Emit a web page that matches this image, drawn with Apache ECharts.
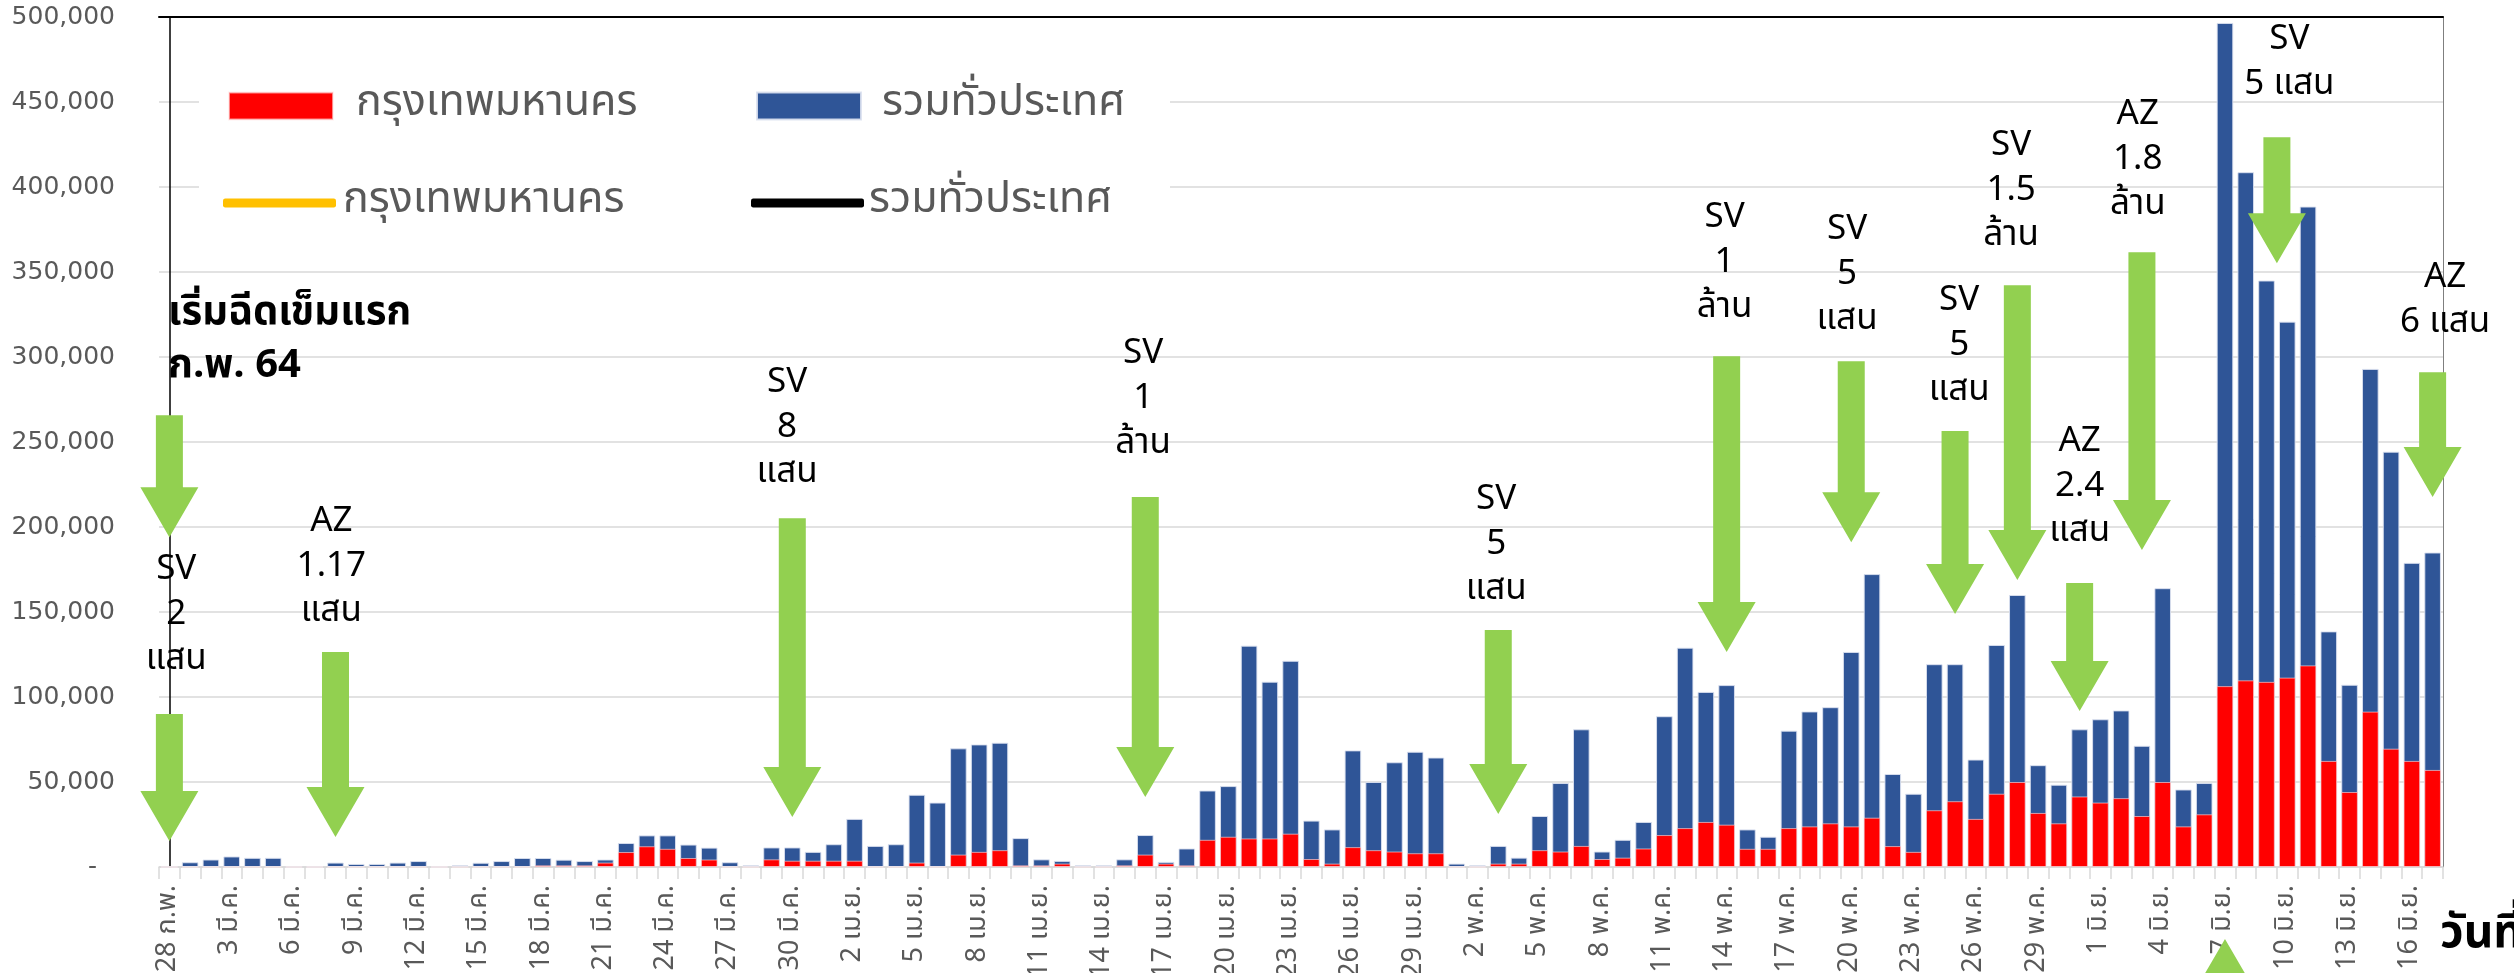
<!DOCTYPE html>
<html><head><meta charset="utf-8">
<script src="https://cdn.jsdelivr.net/npm/echarts@6/dist/echarts.min.js"></script>
<style>html,body{margin:0;padding:0;background:#fff}#c{width:2514px;height:973px}</style>
</head><body><div id="c"></div>
<script>
// Category labels (daily, 28 ก.พ. 64 – 17 มิ.ย. 64)
const monthSpans = [['ก.พ.',28,28],['มี.ค.',1,31],['เม.ย.',1,30],['พ.ค.',1,31],['มิ.ย.',1,17]];
const categories = [];
monthSpans.forEach(([m,a,b]) => { for (let d = a; d <= b; d++) categories.push(d + ' ' + m); });

// รวมทั่วประเทศ (doses per day, whole country)
const totalDoses = [
 0,2800,4400,6200,5400,5400,0,0,2600,1800,
 1800,2600,3500,0,1000,2500,3500,5300,5300,4300,
 3500,4400,14100,18600,18600,13200,11400,2800,1000,11500,
 11500,8900,13400,28300,12400,13400,42500,37900,69800,72100,
 73100,17000,4500,3600,1000,1000,4500,18800,3000,10900,
 45000,47600,130200,109000,121300,27300,22100,68600,50000,61600,
 67800,64400,2000,1000,12400,5500,30000,49400,81000,9100,
 16000,26500,88700,129000,103000,107000,22100,17800,80200,91500,
 94000,126500,172300,54700,43100,119300,119300,63200,130600,160000,
 59900,48400,81000,86900,92100,71300,164000,45600,49400,496500,
 408700,345000,320800,388500,138600,107200,293000,244300,178900,185000
];
// กรุงเทพมหานคร (doses per day, Bangkok)
const bangkokDoses = [
 0,0,0,0,0,0,0,0,0,0,
 0,0,0,0,0,0,0,0,1000,1000,
 1000,2600,8800,12200,10700,5300,4400,0,0,4500,
 3700,3700,3700,3700,0,0,2600,0,7300,8900,
 9900,1000,1000,2000,0,0,1000,7300,2000,1000,
 16000,17800,16800,16800,19600,4700,2000,11700,9900,9100,
 8100,8100,0,0,2000,2000,9900,9100,12400,4700,
 5500,10900,18800,22900,26500,24900,10700,10700,22900,23900,
 25700,23900,29000,12300,8900,33400,38700,28300,43100,50000,
 31800,25700,41500,37900,40500,30000,50000,23900,31000,106400,
 109800,108900,111400,118600,62400,44100,91400,69600,62400,57100
];
const yMin = 0, yMax = 500000, yStep = 50000;

// Delivery arrows: [day index, tail value, tip value]
const arrows = [
 [0,265800,194000],[0,90000,15300],[8,126400,17600],[30,205200,29400],
 [47,217600,41200],[64,139400,31200],[75,300500,126400],[81,297500,191100],
 [86,256400,148800],[89,342200,168800],[92,167000,91700],[95,361600,186400],
 [101.5,429200,355200],[109,291000,217600],[99,-95800,-42300]
];
// Delivery notes: [day position, value at first line, text]
const notes = [
 [0.33,173500,'SV\n2\nแสน'],[7.8,201700,'AZ\n1.17\nแสน'],[29.75,283400,'SV\n8\nแสน'],
 [46.9,300500,'SV\n1\nล้าน'],[63.9,214600,'SV\n5\nแสน'],[74.9,380400,'SV\n1\nล้าน'],
 [80.8,373400,'SV\n5\nแสน'],[86.2,331600,'SV\n5\nแสน'],[88.7,422800,'SV\n1.5\nล้าน'],
 [92,248700,'AZ\n2.4\nแสน'],[94.8,441000,'AZ\n1.8\nล้าน'],[102.1,485100,'SV\n5 แสน'],
 [109.6,345200,'AZ\n6 แสน']
];
const headNote = [[-0.07,324000,'เริ่มฉีดเข็มแรก\nก.พ. 64']];

const FONT = "Tahoma, 'Noto Sans Thai', Loma, Garuda, 'DejaVu Sans', sans-serif";
const NUMFONT = "'DejaVu Sans', sans-serif";
const GREEN = '#92D050';

const chart = echarts.init(document.getElementById('c'));

function arrowItem(params, api) {
  const x = api.value(0), a = api.value(1), b = api.value(2);
  const p1 = api.coord([x, a]), p2 = api.coord([x, b]);
  const dir = p2[1] > p1[1] ? 1 : -1;
  const sw = 13.5, hw = 29, hl = 50;
  const cx = p1[0];
  const hb = p2[1] - dir * hl;
  return {
    type: 'polygon',
    shape: { points: [
      [cx - sw, p1[1]], [cx + sw, p1[1]], [cx + sw, hb], [cx + hw, hb],
      [cx, p2[1]], [cx - hw, hb], [cx - sw, hb]
    ]},
    style: { fill: GREEN }
  };
}
function noteItem(list, opts) {
  return function (params, api) {
    const p = api.coord([api.value(0), api.value(1)]);
    return {
      type: 'text', x: p[0], y: p[1] - opts.lh / 2,
      style: {
        text: list[params.dataIndex][2], fill: '#000',
        font: opts.font, lineHeight: opts.lh,
        align: opts.align, verticalAlign: 'top'
      }
    };
  };
}
const legendText = (pad) => ({ fontSize: 43, fontFamily: FONT, color: '#595959', padding: [0,0,0,pad], lineHeight: 48 });

chart.setOption({
  animation: false,
  backgroundColor: '#fff',
  grid: { left: 159, right: 71, top: 17, bottom: 106, containLabel: false, outerBoundsMode: 'none' },
  graphic: [
    { type: 'rect', z: 1, shape: { x: 199, y: 62, width: 971, height: 182 }, style: { fill: '#fff' } },
    { type: 'text', z: 10, x: 2440, y: 938, style: { text: 'วันที่', fill: '#000', font: 'bold 46px ' + FONT, verticalAlign: 'middle' } }
  ],
  legend: [
    { data: ['กรุงเทพมหานคร'], left: 228, top: 82, padding: 0, itemWidth: 104, itemHeight: 27, icon: 'rect',
      textStyle: legendText(18) },
    { data: ['รวมทั่วประเทศ'], left: 756, top: 82, padding: 0, itemWidth: 104, itemHeight: 27, icon: 'rect',
      textStyle: legendText(16) },
    { data: ['กรุงเทพมหานคร '], left: 223, top: 179, padding: 0, itemWidth: 113, itemHeight: 9, icon: 'roundRect',
      textStyle: legendText(2) },
    { data: ['รวมทั่วประเทศ '], left: 751, top: 179, padding: 0, itemWidth: 113, itemHeight: 9, icon: 'roundRect',
      textStyle: legendText(0) }
  ],
  xAxis: [
    { type: 'category', data: categories, boundaryGap: true,
      axisLine: { lineStyle: { color: '#d9d9d9', width: 1.5 } },
      axisTick: { show: true, interval: 0, length: 12, lineStyle: { color: '#d9d9d9', width: 1.5 } },
      axisLabel: { interval: 2, rotate: 90, margin: 18, fontSize: 27, fontFamily: FONT, color: '#595959' },
      splitLine: { show: false } },
    { type: 'value', position: 'top', min: -0.5, max: categories.length - 0.5,
      axisLine: { show: true, onZero: false, lineStyle: { color: '#000', width: 2 } },
      axisTick: { show: false }, axisLabel: { show: false }, splitLine: { show: false } }
  ],
  yAxis: [
    { type: 'value', min: yMin, max: yMax, interval: yStep,
      axisLine: { show: true, lineStyle: { color: '#000', width: 1.5 } },
      axisTick: { show: false },
      splitLine: { lineStyle: { color: '#d9d9d9', width: 1.5 } },
      axisLabel: { margin: 44, fontSize: 25, fontFamily: NUMFONT, color: '#595959',
        formatter: v => v === 0 ? '{d|-}' : v.toLocaleString('en-US'),
        rich: { d: { fontSize: 25, fontFamily: NUMFONT, color: '#595959', padding: [0, 18, 0, 0] } } } },
    { type: 'value', position: 'right', min: 0, max: 1,
      axisLine: { show: true, lineStyle: { color: '#7f7f7f', width: 1 } },
      axisTick: { show: false }, axisLabel: { show: false }, splitLine: { show: false } }
  ],
  series: [
    { name: 'รวมทั่วประเทศ', type: 'bar', data: totalDoses, barCategoryGap: '20%', z: 2,
      itemStyle: { color: '#2F5597', borderColor: 'rgba(220,225,240,0.9)', borderWidth: 1 } },
    { name: 'กรุงเทพมหานคร', type: 'bar', data: bangkokDoses, barGap: '-100%', z: 3,
      itemStyle: { color: '#FF0000', borderColor: 'rgba(255,230,230,0.6)', borderWidth: 1 } },
    { name: 'กรุงเทพมหานคร ', type: 'line', data: [], itemStyle: { color: '#FFC000' }, lineStyle: { color: '#FFC000' } },
    { name: 'รวมทั่วประเทศ ', type: 'line', data: [], itemStyle: { color: '#000' }, lineStyle: { color: '#000' } },
    { type: 'custom', xAxisIndex: 1, yAxisIndex: 0, z: 5, clip: false, silent: true,
      data: arrows, renderItem: arrowItem },
    { type: 'custom', xAxisIndex: 1, yAxisIndex: 0, z: 6, clip: false, silent: true,
      data: notes.map(n => [n[0], n[1]]),
      renderItem: noteItem(notes, { font: '35px ' + FONT, lh: 45, align: 'center' }) },
    { type: 'custom', xAxisIndex: 1, yAxisIndex: 0, z: 6, clip: false, silent: true,
      data: headNote.map(n => [n[0], n[1]]),
      renderItem: noteItem(headNote, { font: 'bold 40px ' + FONT, lh: 53, align: 'left' }) }
  ]
});
</script></body></html>
